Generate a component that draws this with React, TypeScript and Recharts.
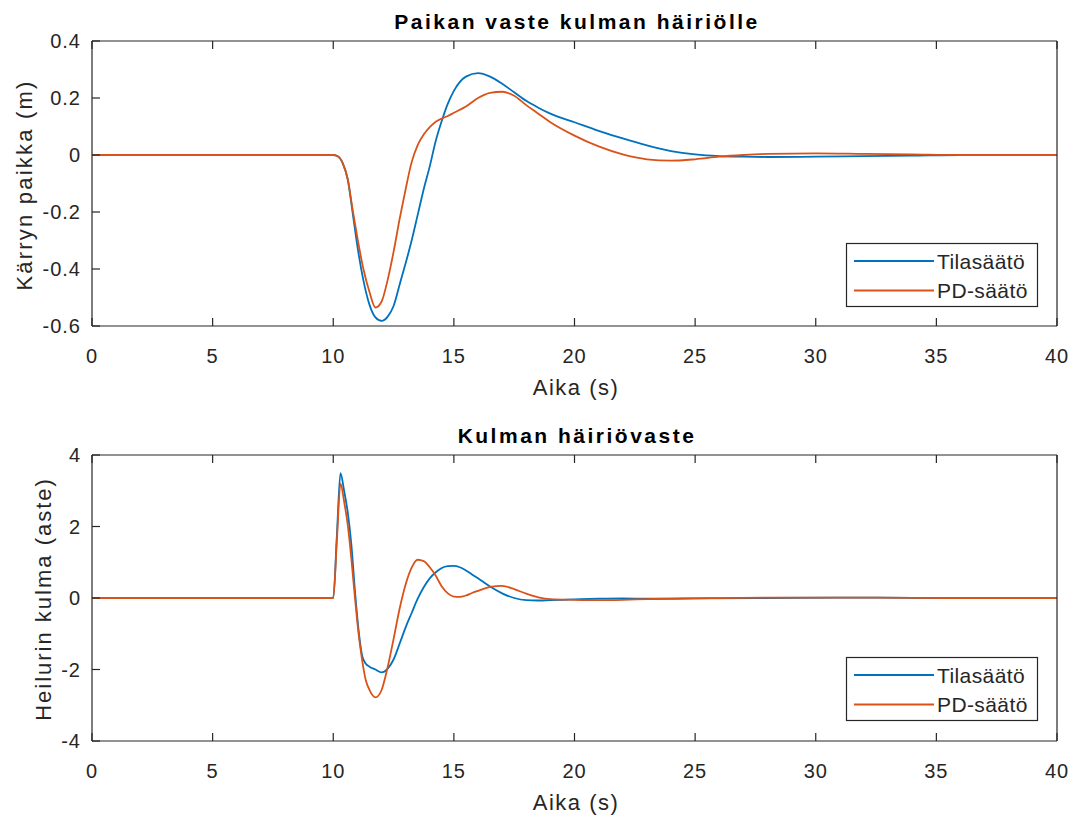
import { LineChart, Line, XAxis, YAxis } from "recharts";

const FONT = '"Liberation Sans", Arial, Helvetica, sans-serif';
const INK = "#262626";
const BLUE = "#0072BD";
const ORANGE = "#D95319";

const seriesNames = ["Tilasäätö", "PD-säätö"];
const seriesColors = [BLUE, ORANGE];

const xTicks = [0, 5, 10, 15, 20, 25, 30, 35, 40];
const posTicks = [-0.6, -0.4, -0.2, 0, 0.2, 0.4];
const angleTicks = [-4, -2, 0, 2, 4];

// cart position (m)
const posTime = [
  0, 10, 10.2, 10.4, 10.6, 10.8, 11, 11.25, 11.5, 11.75, 12, 12.25, 12.5, 12.75, 13, 13.25, 13.5,
  13.75, 14, 14.25, 14.5, 14.75, 15, 15.5, 16, 16.5, 17, 17.5, 18, 18.5, 19, 20, 21, 22, 23, 24, 25,
  26, 27, 28, 30, 32, 34, 36, 40,
];
const posTila = [
  0, 0, -0.005, -0.03, -0.085, -0.2, -0.32, -0.44, -0.525, -0.57, -0.582, -0.568, -0.53, -0.455,
  -0.38, -0.3, -0.21, -0.12, -0.04, 0.05, 0.12, 0.18, 0.225, 0.275, 0.287, 0.275, 0.25, 0.22, 0.19,
  0.166, 0.145, 0.115, 0.085, 0.058, 0.034, 0.014, 0.002, -0.004, -0.006, -0.007, -0.006, -0.004,
  -0.002, 0, 0,
];
const posPd = [
  0, 0, -0.005, -0.03, -0.085, -0.19, -0.29, -0.4, -0.48, -0.535, -0.515, -0.44, -0.34, -0.225,
  -0.12, -0.025, 0.035, 0.072, 0.098, 0.117, 0.128, 0.137, 0.148, 0.17, 0.2, 0.218, 0.222, 0.208,
  0.175, 0.145, 0.115, 0.068, 0.03, 0.002, -0.015, -0.02, -0.015, -0.006, 0, 0.004, 0.006, 0.004,
  0.002, 0, 0,
];

// pendulum angle (deg)
const angTime = [
  0, 10, 10.15, 10.3, 10.45, 10.6, 10.75, 10.9, 11.05, 11.2, 11.35, 11.5, 11.75, 12, 12.25, 12.5,
  12.75, 13, 13.25, 13.5, 13.75, 14, 14.25, 14.5, 14.75, 15, 15.25, 15.5, 15.75, 16, 16.5, 17, 17.5,
  18, 18.5, 19, 20, 21, 22, 23, 25, 28, 32, 36, 40,
];
const angTila = [
  0, 0, 1.75, 3.49, 3.0, 2.4, 1.5, 0.2, -0.9, -1.62, -1.84, -1.92, -2.0, -2.08, -1.98, -1.72,
  -1.28, -0.82, -0.42, -0.02, 0.3, 0.55, 0.72, 0.84, 0.89, 0.9, 0.86, 0.77, 0.66, 0.55, 0.32, 0.13,
  0.0, -0.06, -0.07, -0.06, -0.04, -0.02, -0.01, -0.02, -0.01, 0, 0.01, 0, 0,
];
const angPd = [
  0, 0, 1.6, 3.2, 2.7, 2.05, 1.1, 0.0, -1.0, -1.75, -2.3, -2.57, -2.78, -2.58, -1.95, -1.15, -0.3,
  0.38, 0.85, 1.07, 1.03, 0.86, 0.62, 0.32, 0.13, 0.04, 0.03, 0.07, 0.14, 0.2, 0.31, 0.34, 0.25,
  0.12, 0.02, -0.03, -0.05, -0.06, -0.05, -0.03, -0.01, 0.01, 0.01, 0, 0,
];

const posData = posTime.map((t, i) => ({ t, tila: posTila[i], pd: posPd[i] }));
const angData = angTime.map((t, i) => ({ t, tila: angTila[i], pd: angPd[i] }));

const TICK_LEN = 8;
const X_MARGIN = 22;
const Y_MARGIN = 11;

// MATLAB-style ticks: label outside, tick mark pointing into the plot
function BottomTick(props: any) {
  const { x, y, payload } = props;
  const axisY = y - X_MARGIN;
  return (
    <g>
      <line x1={x} x2={x} y1={axisY} y2={axisY - TICK_LEN} stroke={INK} strokeWidth={1.2} />
      <text x={x} y={y + 14.5} textAnchor="middle" fontSize={20} letterSpacing={1} fill={INK} fontFamily={FONT}>
        {String(payload.value)}
      </text>
    </g>
  );
}

function LeftTick(props: any) {
  const { x, y, payload } = props;
  const axisX = x + Y_MARGIN;
  return (
    <g>
      <line x1={axisX} x2={axisX + TICK_LEN} y1={y} y2={y} stroke={INK} strokeWidth={1.2} />
      <text x={x} y={y} dy="0.36em" textAnchor="end" fontSize={20} letterSpacing={1} fill={INK} fontFamily={FONT}>
        {String(payload.value)}
      </text>
    </g>
  );
}

function TopTick(props: any) {
  const { x, y } = props;
  return <line x1={x} x2={x} y1={y} y2={y + TICK_LEN} stroke={INK} strokeWidth={1.2} />;
}

function RightTick(props: any) {
  const { x, y } = props;
  return <line x1={x} x2={x - TICK_LEN} y1={y} y2={y} stroke={INK} strokeWidth={1.2} />;
}

function Panel({
  data,
  yDomain,
  yTicks,
  height,
  marginBottom,
}: {
  data: { t: number; tila: number; pd: number }[];
  yDomain: [number, number];
  yTicks: number[];
  height: number;
  marginBottom: number;
}) {
  return (
    <LineChart
      width={1079}
      height={height}
      data={data}
      margin={{ top: 40, right: 21, bottom: marginBottom, left: 12 }}
    >
      <XAxis
        xAxisId="b"
        dataKey="t"
        type="number"
        domain={[0, 40]}
        ticks={xTicks}
        interval={0}
        height={74}
        tickSize={0}
        tickMargin={X_MARGIN}
        tickLine={false}
        stroke={INK}
        strokeWidth={1.2}
        tick={<BottomTick />}
      />
      <XAxis
        xAxisId="t"
        orientation="top"
        dataKey="t"
        type="number"
        domain={[0, 40]}
        ticks={xTicks}
        interval={0}
        height={1}
        tickSize={0}
        tickMargin={0}
        tickLine={false}
        stroke={INK}
        strokeWidth={1.2}
        tick={<TopTick />}
      />
      <YAxis
        yAxisId="l"
        type="number"
        domain={yDomain}
        ticks={yTicks}
        interval={0}
        width={80}
        tickSize={0}
        tickMargin={Y_MARGIN}
        tickLine={false}
        stroke={INK}
        strokeWidth={1.2}
        tick={<LeftTick />}
      />
      <YAxis
        yAxisId="r"
        orientation="right"
        type="number"
        domain={yDomain}
        ticks={yTicks}
        interval={0}
        width={1}
        tickSize={0}
        tickMargin={0}
        tickLine={false}
        stroke={INK}
        strokeWidth={1.2}
        tick={<RightTick />}
      />
      <Line
        xAxisId="b"
        yAxisId="l"
        type="monotone"
        dataKey="tila"
        name={seriesNames[0]}
        stroke={seriesColors[0]}
        strokeWidth={1.8}
        dot={false}
        activeDot={false}
        isAnimationActive={false}
      />
      <Line
        xAxisId="b"
        yAxisId="l"
        type="monotone"
        dataKey="pd"
        name={seriesNames[1]}
        stroke={seriesColors[1]}
        strokeWidth={1.8}
        dot={false}
        activeDot={false}
        isAnimationActive={false}
      />
    </LineChart>
  );
}

function LegendBox({ x, y }: { x: number; y: number }) {
  return (
    <g>
      <rect x={x + 0.5} y={y + 0.5} width={191} height={63} fill="#fff" stroke={INK} strokeWidth={1.2} />
      {seriesNames.map((n, i) => (
        <g key={n}>
          <line x1={x + 8} x2={x + 88} y1={y + 18 + i * 29.5} y2={y + 18 + i * 29.5} stroke={seriesColors[i]} strokeWidth={1.8} />
          <text x={x + 91} y={y + 25.5 + i * 29.5} fontSize={21} letterSpacing={0.4} fill={INK} fontFamily={FONT}>
            {n}
          </text>
        </g>
      ))}
    </g>
  );
}

export default function App() {
  const titleProps = { fontSize: 21, fontWeight: 700, letterSpacing: 2.5, fill: "#000", fontFamily: FONT, textAnchor: "middle" as const };
  const labelProps = { fontSize: 22, fill: INK, fontFamily: FONT, textAnchor: "middle" as const };
  return (
    <div style={{ position: "absolute", left: 0, top: 0, width: 1079, height: 816, background: "#fff", overflow: "hidden" }}>
      <div style={{ position: "absolute", left: 0, top: 0 }}>
        <Panel data={posData} yDomain={[-0.6, 0.4]} yTicks={posTicks} height={410} marginBottom={10} />
      </div>
      <div style={{ position: "absolute", left: 0, top: 414 }}>
        <Panel data={angData} yDomain={[-4, 4]} yTicks={angleTicks} height={402} marginBottom={1} />
      </div>
      <svg width={1079} height={816} style={{ position: "absolute", left: 0, top: 0, pointerEvents: "none" }}>
        <text x={577} y={28.5} {...titleProps}>Paikan vaste kulman häiriölle</text>
        <text x={577} y={442.5} {...titleProps}>Kulman häiriövaste</text>
        <text x={576} y={395} letterSpacing={1.5} {...labelProps}>Aika (s)</text>
        <text x={576} y={810} letterSpacing={1.5} {...labelProps}>Aika (s)</text>
        <text x={32} y={185} letterSpacing={2.2} transform="rotate(-90 32 185)" {...labelProps}>Kärryn paikka (m)</text>
        <text x={50.5} y={599} letterSpacing={2} transform="rotate(-90 50.5 599)" {...labelProps}>Heilurin kulma (aste)</text>
        <LegendBox x={846} y={243} />
        <LegendBox x={846} y={657} />
      </svg>
    </div>
  );
}
